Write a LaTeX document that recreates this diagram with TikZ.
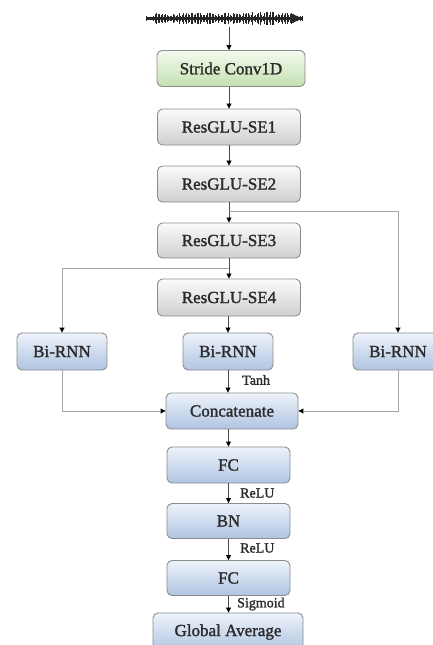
\documentclass[tikz,border=0pt]{standalone}
\usepackage{fontspec}
\setmainfont{Liberation Serif}
\newfontfamily\boxfont{Liberation Serif}[FakeBold=1.5]
\usetikzlibrary{arrows.meta}
\definecolor{boxedge}{HTML}{8C8C8C}
\definecolor{txt}{HTML}{2A2A2A}
\definecolor{mainline}{HTML}{4A4A4A}
\definecolor{branchline}{HTML}{A6A6A6}
\definecolor{graytop}{HTML}{FBFBFB}
\definecolor{graybot}{HTML}{CFCFCF}
\definecolor{greentop}{HTML}{F4FAEF}
\definecolor{greenbot}{HTML}{C3E0B0}
\definecolor{bluetop}{HTML}{EEF3FA}
\definecolor{bluebot}{HTML}{AFC4E2}
\tikzset{
  blk/.style={draw=boxedge, line width=0.9pt, rounded corners=5pt, shading=axis,
    inner sep=0pt, minimum height=36pt, text=txt, font=\boxfont\fontsize{17}{19}\selectfont},
  graybox/.style={blk, top color=graytop, bottom color=graybot, minimum width=143pt},
  greenbox/.style={blk, top color=greentop, bottom color=greenbot, minimum width=148pt},
  bluebox/.style={blk, top color=bluetop, bottom color=bluebot},
  arr/.style={draw=mainline, line width=0.8pt, -{Triangle[length=5pt,width=5pt,color=black]}},
  brl/.style={draw=branchline, line width=1pt, -{Triangle[length=5pt,width=5pt,color=black]}},
  lbl/.style={anchor=west, inner sep=0pt, text=txt, font=\boxfont\fontsize{14}{16}\selectfont},
}
\begin{document}
\begin{tikzpicture}[x=1pt,y=-1pt]
\useasboundingbox (0,0) rectangle (432,645);
% waveform
\pgfmathsetseed{7}
\draw[line width=2.6pt, black!85] (146,18.5) -- (303,18.5);
\foreach \i in {0,...,104}{
  \pgfmathsetmacro{\xx}{146+\i*1.5}
  \pgfmathsetmacro{\env}{(\i<6 ? 2.8 : (\i>98 ? 3.2 : (\i>70 ? 7 : 5.8)))}
  \pgfmathsetmacro{\aa}{\env*(0.4+0.6*rnd)}
  \draw[line width=1pt, black!85] (\xx,18.5-\aa) -- (\xx,18.5+\aa);
}
\fill[black!85] (292,14) -- (303,18.5) -- (292,23) -- cycle;
\node[minimum width=160pt, minimum height=16pt, inner sep=0pt] (wave) at (224.5,18.5) {};
% main column
\node[greenbox] (conv) at (231,68.5) {Stride Conv1D};
\node[graybox] (se1) at (229,127) {ResGLU-SE1};
\node[graybox] (se2) at (229,184) {ResGLU-SE2};
\node[graybox, minimum height=35pt] (se3) at (229,240.5) {ResGLU-SE3};
\node[graybox, minimum height=37pt] (se4) at (229,297.5) {ResGLU-SE4};
\node[bluebox, minimum width=90pt, minimum height=37pt] (bl) at (62,351.5) {Bi-RNN};
\node[bluebox, minimum width=90pt, minimum height=37pt] (bm) at (228,351.5) {Bi-RNN};
\node[bluebox, minimum width=90pt, minimum height=37pt] (br) at (398,351.5) {Bi-RNN};
\node[bluebox, minimum width=132pt, minimum height=36pt] (cat) at (232,411) {Concatenate};
\node[bluebox, minimum width=123pt, minimum height=36pt] (fc1) at (228.5,465) {FC};
\node[bluebox, minimum width=123pt, minimum height=35pt] (bn) at (228.5,521) {BN};
\node[bluebox, minimum width=123pt, minimum height=35pt] (fc2) at (228.5,578) {FC};
\node[bluebox, minimum width=150pt, minimum height=38pt] (ga) at (228,632) {Global Average};
% branch points
\coordinate (b2) at (229,211);
\coordinate (b3) at (229,268);
% arrows
\draw[arr] (wave.south -| se1.north) -- (conv.north -| se1.north);
\draw[arr] (conv.south -| se1.north) -- (se1.north);
\draw[arr] (se1.south) -- (se2.north);
\draw[arr] (se2.south) -- (se3.north);
\draw[arr] (se3.south) -- (se4.north);
\draw[arr] (se4.south -| bm.south) -- (bm.north);
\draw[arr] (bm.south) -- (bm.south |- cat.north);
\draw[arr] (fc1.north |- cat.south) -- (fc1.north);
\draw[arr] (fc1.south) -- (bn.north);
\draw[arr] (bn.south) -- (fc2.north);
\draw[arr] (fc2.south) -- (fc2.south |- ga.north);
% branches
\draw[brl] (b2) -| (br.north);
\draw[brl] (b3) -| (bl.north);
\draw[brl] (bl.south) |- (cat.west);
\draw[brl] (br.south) |- (cat.east);
% labels
\node[lbl] (tanh) at (242,380) {Tanh};
\node[lbl] (relu1) at (240,493) {ReLU};
\node[lbl] (relu2) at (240,548) {ReLU};
\node[lbl] (sigm) at (237,604) {Sigmoid};
\end{tikzpicture}
\end{document}
